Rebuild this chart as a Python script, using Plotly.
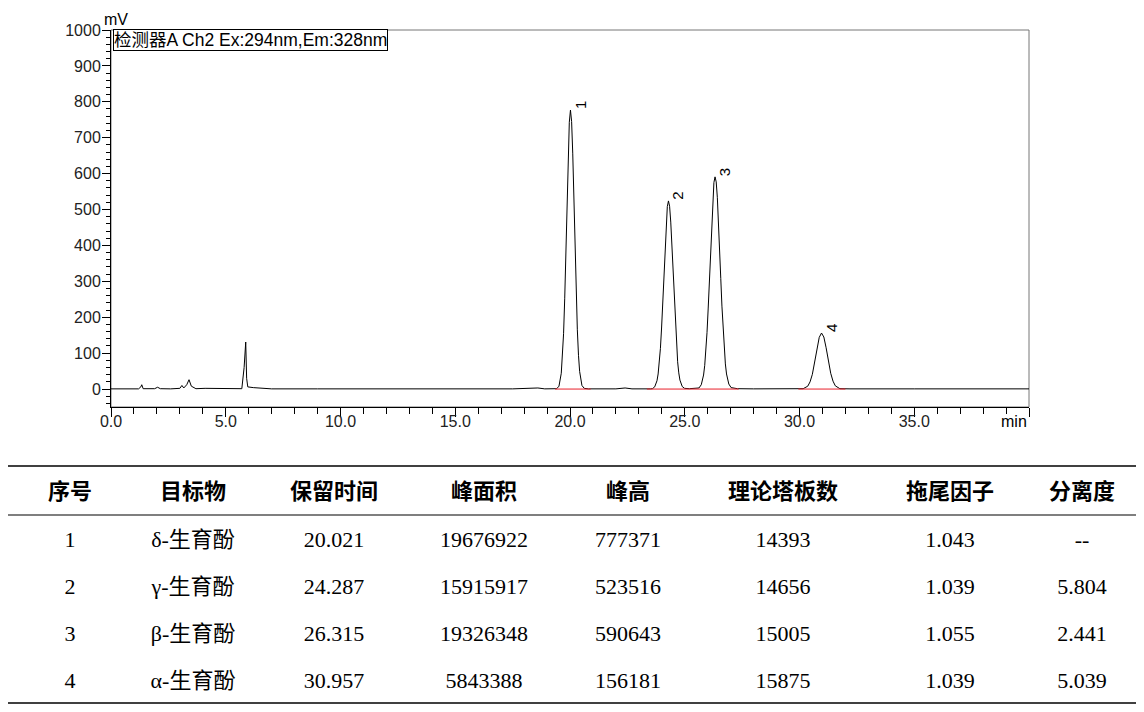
import plotly.graph_objects as go

# chromatogram trace (time in min, signal in mV)
time_min = [
    0.0, 0.6, 1.2, 1.30, 1.34, 1.40, 1.9, 2.03, 2.15, 2.6, 3.0, 3.09, 3.17, 3.30, 3.40, 3.50, 3.70,
    4.1, 4.5, 5.0, 5.70, 5.80, 5.87, 5.91, 5.96, 6.2, 6.6, 7.0, 9.0, 12.0, 15.0, 17.5, 18.6, 18.9,
    19.42, 19.52, 19.62, 19.67, 19.72, 19.77, 19.82, 19.87, 19.92, 19.97, 20.02, 20.07, 20.12,
    20.17, 20.22, 20.27, 20.32, 20.37, 20.42, 20.52, 20.62, 20.8, 22.0, 22.4, 22.7, 23.5,
    23.59, 23.69, 23.79, 23.84, 23.89, 23.94, 23.99, 24.04, 24.09, 24.14, 24.19, 24.24, 24.29,
    24.34, 24.39, 24.44, 24.49, 24.54, 24.59, 24.64, 24.69, 24.74, 24.79, 24.89, 24.99, 25.2, 25.5,
    25.62, 25.72, 25.82, 25.87, 25.92, 25.97, 26.02, 26.07, 26.12, 26.17, 26.22, 26.27, 26.32,
    26.37, 26.42, 26.47, 26.52, 26.57, 26.62, 26.67, 26.72, 26.77, 26.82, 26.92, 27.02, 27.3, 28.0,
    29.5, 30.16, 30.36, 30.46, 30.56, 30.66, 30.76, 30.86, 30.96, 31.06, 31.16, 31.26, 31.36, 31.46,
    31.56, 31.76, 32.2, 35.0, 38.0, 40.0,
]
signal_mv = [
    0.5, 0.8, 0.5, 6, 12, 1, 1, 5, 1, 0.5, 2, 10, 3, 12, 26, 8, 1,
    2, 1.5, 1, 1, 60, 131, 30, 6, 4, 2, 0.5, 0.5, 0.5, 0.3, 0.5, 3, 0.5,
    1, 8, 44, 86, 154, 253, 378, 518, 649, 743, 777, 745, 655,
    528, 390, 265, 165, 94, 49, 10, 2, 0.5, 0.5, 3, 0.5, 0.5,
    1, 6, 23, 42, 71, 113, 170, 240, 318, 395, 462, 508, 524,
    509, 465, 400, 324, 247, 177, 119, 76, 45, 25, 7, 2, 1, 1,
    3, 12, 39, 66, 104, 157, 223, 300, 383, 463, 530, 575, 591,
    577, 534, 469, 390, 308, 231, 164, 110, 70, 42, 14, 4, 1, 0.5,
    0.5, 1, 8, 20, 41, 74, 112, 144, 156, 145, 115, 77, 44, 22,
    9, 1, 0.5, 0.5, 0.8, 0.5,
]

# integration baselines (red)
base_start = [19.35, 23.35, 29.95]
base_end = [20.90, 27.35, 32.00]

# peak labels
peak_ids = ["1", "2", "3", "4"]
peak_rt = [20.021, 24.287, 26.315, 30.957]
peak_top = [777, 524, 591, 156]

# table
col_headers = ["序号", "目标物", "保留时间", "峰面积", "峰高", "理论塔板数", "拖尾因子", "分离度"]
seq_no = ["1", "2", "3", "4"]
analytes = ["δ-生育酚", "γ-生育酚", "β-生育酚", "α-生育酚"]
ret_time = ["20.021", "24.287", "26.315", "30.957"]
peak_area = ["19676922", "15915917", "19326348", "5843388"]
peak_height = ["777371", "523516", "590643", "156181"]
plates = ["14393", "14656", "15005", "15875"]
tailing = ["1.043", "1.039", "1.055", "1.039"]
resolution = ["--", "5.804", "2.441", "5.039"]

W, H = 1144, 712
OFF = 8  # page body margin


def px(x):
    return (x - OFF) / W


def py(y):
    return 1 - (y - OFF) / H


sans = "Liberation Sans, Arial, Noto Sans CJK SC"

fig = go.Figure()

fig.add_trace(go.Scatter(x=time_min, y=signal_mv, mode="lines",
                         line=dict(color="black", width=1), hoverinfo="skip"))

bx, by = [], []
for s, e in zip(base_start, base_end):
    bx += [s, e, None]
    by += [0, 0, None]
fig.add_trace(go.Scatter(x=bx, y=by, mode="lines",
                         line=dict(color="#e8202a", width=1), hoverinfo="skip"))

for pid, rt, top in zip(peak_ids, peak_rt, peak_top):
    fig.add_annotation(x=rt, y=top, text=pid, showarrow=False, textangle=-90,
                       xanchor="left", yanchor="bottom", xshift=-1, yshift=-1,
                       font=dict(family=sans, size=15, color="black"))

# plot frame (top/right)
fig.add_shape(type="rect", xref="x domain", yref="y domain", x0=0, x1=1, y0=0, y1=1,
              line=dict(color="#777777", width=1), layer="below")

fig.add_annotation(xref="paper", yref="paper", x=px(102), y=py(30), text="mV",
                   showarrow=False, xanchor="left", yanchor="bottom",
                   font=dict(family=sans, size=16, color="black"))
fig.add_annotation(xref="paper", yref="paper", x=px(113), y=py(29),
                   text="检测器A Ch2 Ex:294nm,Em:328nm", showarrow=False,
                   xanchor="left", yanchor="top", align="left",
                   bordercolor="black", borderwidth=1, borderpad=0, bgcolor="white",
                   font=dict(family=sans, size=17.5, color="black"))
fig.add_annotation(xref="x", yref="paper", x=40, y=py(411), text="min",
                   showarrow=False, xanchor="right", yanchor="top",
                   font=dict(family=sans, size=16, color="black"))

# table
fig.add_trace(go.Table(
    domain=dict(x=[px(8), px(1128)], y=[1 - 705 / H, 1 - 466 / H]),
    columnwidth=[124, 122, 160, 140, 148, 162, 172, 92],
    header=dict(values=col_headers, align="center", height=48,
                fill_color="white", line_color="white",
                font=dict(family="Noto Sans CJK SC", size=22, color="black",
                          weight="bold")),
    cells=dict(values=[seq_no, analytes, ret_time, peak_area, peak_height,
                       plates, tailing, resolution],
               align="center", height=47, fill_color="white", line_color="white",
               font=dict(family="Liberation Serif, Noto Sans CJK SC", size=22,
                         color="black")),
))

for yy, lw in [(466, 1.5), (515, 1.2), (703, 1.5)]:
    fig.add_shape(type="line", xref="paper", yref="paper", x0=px(8), x1=px(1138),
                  y0=py(yy), y1=py(yy), line=dict(color="black", width=lw))

fig.update_xaxes(domain=[px(111), px(1029)], range=[0, 40], automargin=False,
                 tickvals=[0, 5, 10, 15, 20, 25, 30, 35, 40],
                 ticktext=["0.0", "5.0", "10.0", "15.0", "20.0", "25.0", "30.0", "35.0", ""],
                 ticks="outside", ticklen=9, tickcolor="black", tickwidth=1,
                 ticklabelstandoff=-9,
                 minor=dict(dtick=1, ticks="outside", ticklen=6, tickcolor="black"),
                 showline=True, linecolor="black", linewidth=1,
                 showgrid=False, zeroline=False,
                 tickfont=dict(family=sans, size=16, color="#222222"))
fig.update_yaxes(domain=[py(407), py(30)], range=[-50, 1000], automargin=False,
                 tickvals=list(range(0, 1001, 100)),
                 ticks="outside", ticklen=8, tickcolor="black", tickwidth=1,
                 ticklabelstandoff=-2,
                 minor=dict(dtick=20, ticks="outside", ticklen=4, tickcolor="black"),
                 showline=True, linecolor="black", linewidth=1,
                 showgrid=False, zeroline=False,
                 tickfont=dict(family=sans, size=16, color="#222222"))

fig.update_layout(width=W, height=H, margin=dict(l=0, r=0, t=0, b=0, autoexpand=False),
                  paper_bgcolor="white", plot_bgcolor="white", showlegend=False)

fig.write_html("out.html")
